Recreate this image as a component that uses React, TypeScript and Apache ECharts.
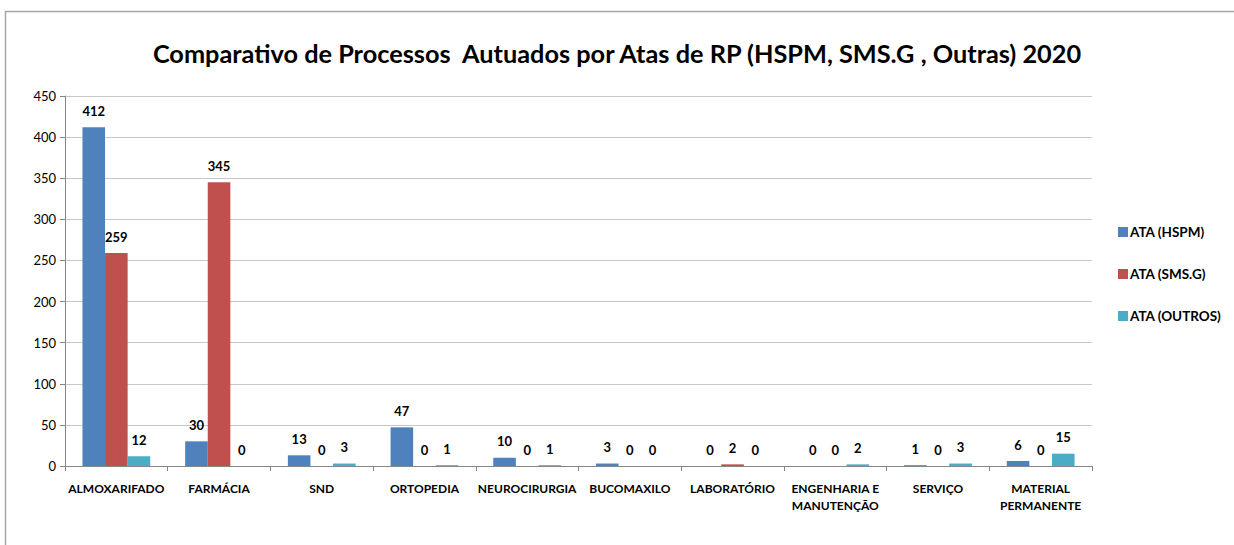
import React, { useEffect, useRef } from "react";
import * as echarts from "echarts";

const categories = [
  "ALMOXARIFADO",
  "FARMÁCIA",
  "SND",
  "ORTOPEDIA",
  "NEUROCIRURGIA",
  "BUCOMAXILO",
  "LABORATÓRIO",
  "ENGENHARIA E\nMANUTENÇÃO",
  "SERVIÇO",
  "MATERIAL\nPERMANENTE",
];
const seriesNames = ["ATA (HSPM)", "ATA (SMS.G)", "ATA (OUTROS)"];
const hspm = [412, 30, 13, 47, 10, 3, 0, 0, 1, 6];
const smsg = [259, 345, 0, 0, 0, 0, 2, 0, 0, 0];
const outros = [12, 0, 3, 1, 1, 0, 0, 2, 3, 15];
const colors = ["#4F81BD", "#C0504D", "#4BACC6"];
const titleText = "Comparativo de Processos  Autuados por Atas de RP (HSPM, SMS.G , Outras) 2020";

const FONT = "Lato, 'Open Sans', sans-serif";

export default function App() {
  const ref = useRef<HTMLDivElement>(null);
  useEffect(() => {
    document.body.style.margin = "0";
    if (!ref.current) return;
    const chart = echarts.init(ref.current, null, { renderer: "svg" });
    const data = [hspm, smsg, outros];
    chart.setOption({
      animation: false,
      backgroundColor: "#ffffff",
      title: {
        text: titleText,
        left: "center",
        top: 35,
        textStyle: { fontFamily: FONT, fontWeight: "bold", fontSize: 25.3, color: "#000" },
      },
      graphic: [
        {
          type: "rect",
          shape: { x: 5.5, y: 11.5, width: 1400, height: 700 },
          style: { fill: "none", stroke: "#a6a6a6", lineWidth: 1.5 },
          silent: true,
        },
      ],
      legend: {
        orient: "vertical",
        left: 1113,
        top: 220,
        itemWidth: 10,
        itemHeight: 10,
        itemGap: 28,
        icon: "rect",
        textStyle: { fontFamily: FONT, fontWeight: "bold", fontSize: 13.5, color: "#000", padding: [0, 0, 0, -3] },
        data: seriesNames,
      },
      grid: { left: 65, top: 96, width: 1027, height: 370, containLabel: false },
      xAxis: {
        type: "category",
        data: categories,
        axisLine: { lineStyle: { color: "#868686" } },
        axisTick: { show: true, length: 5, lineStyle: { color: "#868686" } },
        axisLabel: {
          interval: 0,
          margin: 14,
          fontFamily: FONT,
          fontWeight: "bold",
          fontSize: 12,
          color: "#000",
          lineHeight: 17,
        },
      },
      yAxis: {
        type: "value",
        min: 0,
        max: 450,
        interval: 50,
        axisLine: { show: true, lineStyle: { color: "#868686" } },
        axisTick: { show: true, length: 5, lineStyle: { color: "#868686" } },
        splitLine: { lineStyle: { color: "#c8c8c8" } },
        axisLabel: { fontFamily: FONT, fontSize: 13, color: "#000", margin: 9 },
      },
      series: seriesNames.map((name, i) => ({
        name,
        type: "bar",
        data: data[i],
        barGap: "0%",
        barCategoryGap: "34%",
        itemStyle: { color: colors[i] },
        label: {
          show: true,
          position: "top",
          distance: 10,
          fontFamily: FONT,
          fontWeight: "bold",
          fontSize: 13,
          color: "#000",
        },
      })),
    });
    return () => chart.dispose();
  }, []);
  return <div ref={ref} style={{ width: 1234, height: 545 }} />;
}
